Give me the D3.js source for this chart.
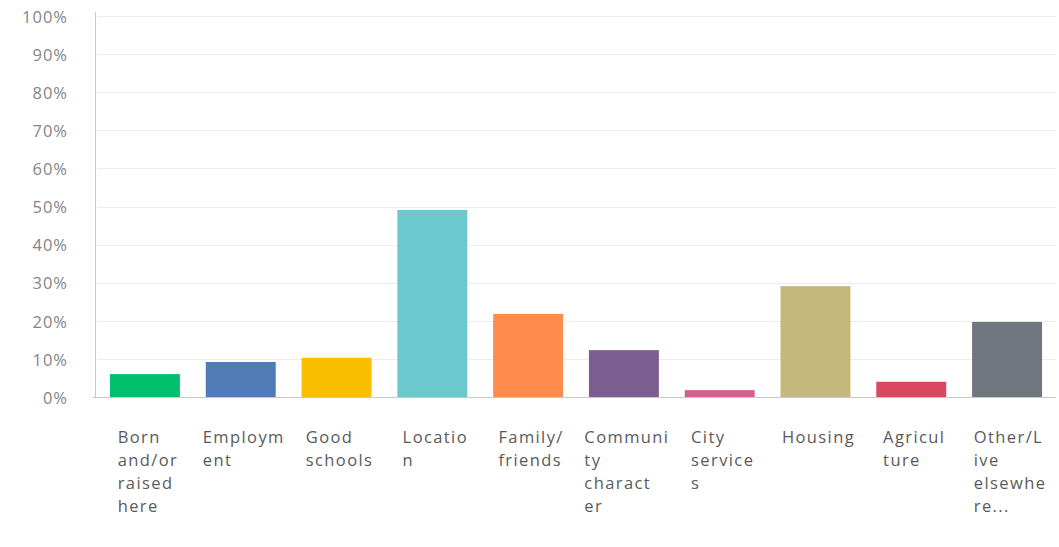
<!DOCTYPE html>
<html>
<head>
<meta charset="utf-8">
<script src="https://cdn.jsdelivr.net/npm/d3@7"></script>
<style>
  html, body { margin: 0; padding: 0; background: #ffffff; }
  svg { display: block; }
  .ylab { font-family: "Open Sans", sans-serif; font-size: 16.5px; letter-spacing: 1px; fill: #858585; }
  .xlab { font-family: "Open Sans", sans-serif; font-size: 16.5px; letter-spacing: 1.4px; fill: #5a5a5a; }
</style>
</head>
<body>
<svg id="chart" width="1059" height="547"></svg>
<script>
// Reasons for living in the community (share of respondents)
const categories = [
  "Born and/or raised here",
  "Employment",
  "Good schools",
  "Location",
  "Family/friends",
  "Community character",
  "City services",
  "Housing",
  "Agriculture",
  "Other/Live elsewhere..."
];
const values = [6.0, 9.2, 10.3, 49.1, 21.8, 12.3, 1.8, 29.1, 4.0, 19.7];
const colors = ["#00bf6f", "#507cb6", "#f9be00", "#6bc8cd", "#ff8b4f",
                "#7d5c91", "#d25f90", "#c4b87c", "#dc4760", "#6f767d"];
const yTicks = [0, 10, 20, 30, 40, 50, 60, 70, 80, 90, 100];

const svg = d3.select("#chart");
const plotLeft = 96, plotRight = 1056, plotTop = 16, plotBottom = 397;

const x = d3.scaleBand()
  .domain(categories)
  .range([plotLeft, plotRight])
  .paddingInner(0.27)
  .paddingOuter(0.146);

const y = d3.scaleLinear().domain([0, 100]).range([plotBottom, plotTop]);

// horizontal gridlines
svg.append("g")
  .selectAll("line")
  .data(yTicks.filter(d => d > 0))
  .join("line")
  .attr("x1", plotLeft + 1).attr("x2", plotRight)
  .attr("y1", d => Math.round(y(d)) + 0.5).attr("y2", d => Math.round(y(d)) + 0.5)
  .attr("stroke", "#ececec").attr("stroke-width", 1);

// y axis labels
const yAxis = d3.axisLeft(y).tickValues(yTicks).tickFormat(d => d + "%").tickSize(0).tickPadding(0);
const yg = svg.append("g").attr("transform", "translate(68,1)").call(yAxis);
yg.attr("font-size", null).attr("font-family", null);
yg.select(".domain").remove();
yg.selectAll("text").attr("class", "ylab").attr("fill", null);

// vertical axis line
svg.append("line")
  .attr("x1", plotLeft - 0.5).attr("x2", plotLeft - 0.5)
  .attr("y1", plotTop - 4).attr("y2", plotBottom)
  .attr("stroke", "#c8c8c8");

// bars
svg.append("g")
  .selectAll("rect")
  .data(categories)
  .join("rect")
  .attr("x", d => x(d))
  .attr("width", x.bandwidth())
  .attr("y", (d, i) => y(values[i]))
  .attr("height", (d, i) => plotBottom - y(values[i]))
  .attr("fill", (d, i) => colors[i]);

// baseline
svg.append("line")
  .attr("x1", plotLeft - 3).attr("x2", plotRight)
  .attr("y1", plotBottom + 0.5).attr("y2", plotBottom + 0.5)
  .attr("stroke", "#c8c8c8");

// wrap a label into lines of at most `max` characters, breaking long words
function wrapLabel(text, max) {
  const lines = [];
  let cur = "";
  text.split(" ").forEach(word => {
    if (cur && (cur + " " + word).length <= max) { cur += " " + word; return; }
    if (cur) { lines.push(cur); cur = ""; }
    while (word.length > max) { lines.push(word.slice(0, max)); word = word.slice(max); }
    cur = word;
  });
  if (cur) lines.push(cur);
  return lines;
}

// category labels: left-aligned lines, block centred under each bar
const xg = svg.append("g");
categories.forEach(cat => {
  const t = xg.append("text").attr("class", "xlab");
  wrapLabel(cat, 7).forEach((line, k) => {
    t.append("tspan").attr("x", 0).attr("y", 443 + k * 23).text(line);
  });
  const w = t.node().getBBox().width;
  t.attr("transform", `translate(${x(cat) + x.bandwidth() / 2 - w / 2 + 3},0)`);
});
</script>
</body>
</html>
